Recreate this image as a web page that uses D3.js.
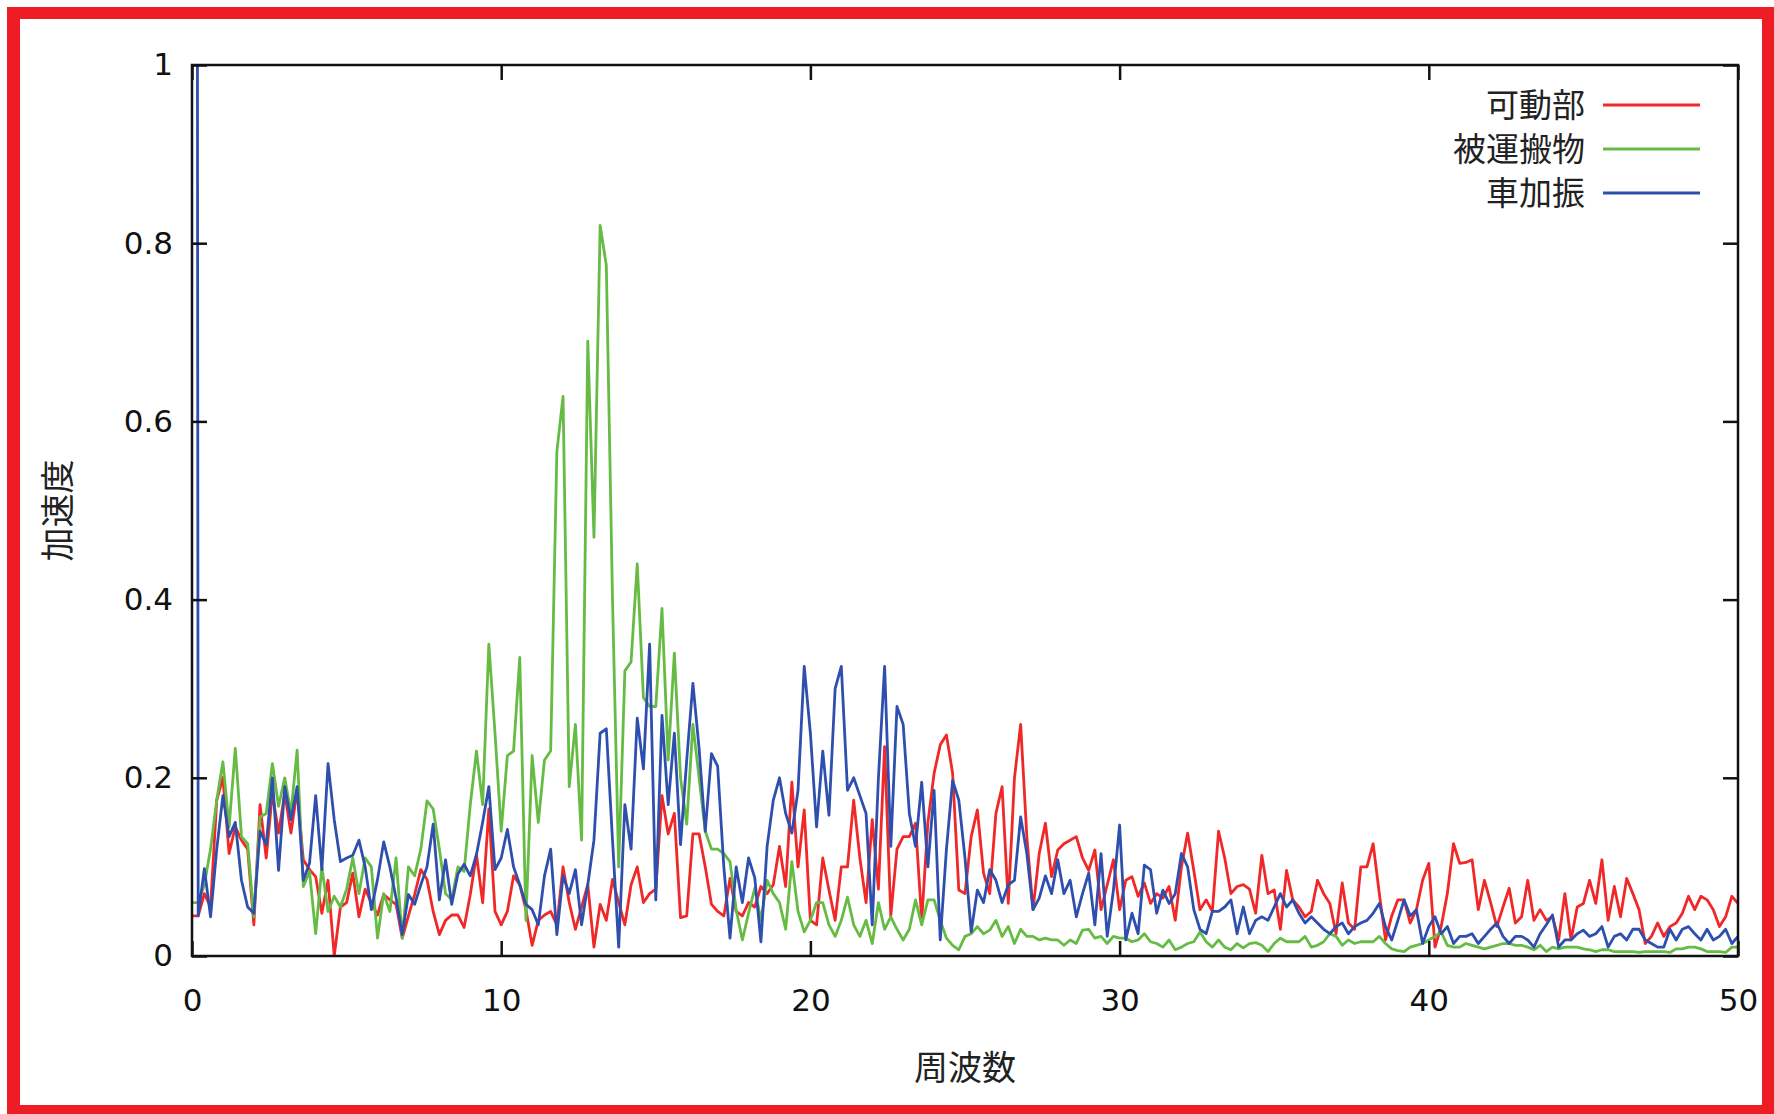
<!DOCTYPE html>
<html>
<head>
<meta charset="utf-8">
<script src="https://cdn.jsdelivr.net/npm/d3@7/dist/d3.min.js"></script>
<style>
  html, body { margin: 0; padding: 0; background: #ffffff; }
  svg { display: block; }
</style>
</head>
<body>
<svg id="chart" width="1774" height="1114"></svg>
<script>
// ---------------- data ----------------
const seriesNames = ["可動部", "被運搬物", "車加振"];
const xLabel = "周波数";
const yLabel = "加速度";
const xTicks = [0, 10, 20, 30, 40, 50];
const yTicks = [0, 0.2, 0.4, 0.6, 0.8, 1];
const freqStep = 0.2; // Hz between spectrum samples, starting at 0

// 可動部 (red)
const movingPart = [
  0.045,0.045,0.07,0.055,0.175,0.2,0.115,0.145,0.13,0.12,
  0.035,0.17,0.11,0.183,0.138,0.183,0.138,0.186,0.108,0.097,
  0.089,0.048,0.085,0.0,0.055,0.06,0.093,0.044,0.075,0.06,
  0.046,0.069,0.063,0.058,0.02,0.045,0.069,0.097,0.086,0.05,
  0.024,0.04,0.046,0.046,0.032,0.069,0.114,0.06,0.165,0.05,
  0.035,0.05,0.09,0.08,0.052,0.012,0.04,0.046,0.05,0.035,
  0.1,0.06,0.03,0.055,0.08,0.01,0.058,0.04,0.086,0.06,
  0.035,0.08,0.1,0.06,0.07,0.075,0.18,0.137,0.16,0.043,
  0.045,0.137,0.137,0.1,0.058,0.05,0.045,0.087,0.05,0.045,
  0.06,0.055,0.078,0.07,0.08,0.123,0.078,0.195,0.1,0.164,
  0.04,0.035,0.11,0.074,0.04,0.1,0.1,0.175,0.11,0.06,
  0.153,0.075,0.235,0.045,0.12,0.134,0.134,0.149,0.04,0.15,
  0.205,0.237,0.248,0.205,0.074,0.07,0.134,0.164,0.093,0.07,
  0.16,0.19,0.059,0.2,0.26,0.134,0.052,0.115,0.149,0.089,
  0.119,0.126,0.13,0.134,0.11,0.096,0.119,0.052,0.08,0.108,
  0.052,0.085,0.089,0.067,0.082,0.059,0.07,0.065,0.078,0.04,
  0.1,0.138,0.096,0.052,0.063,0.05,0.14,0.11,0.07,0.078,
  0.08,0.075,0.048,0.113,0.07,0.074,0.03,0.096,0.063,0.055,
  0.044,0.05,0.085,0.07,0.059,0.025,0.082,0.037,0.03,0.1,
  0.1,0.126,0.07,0.018,0.045,0.063,0.063,0.037,0.052,0.085,
  0.104,0.01,0.033,0.07,0.126,0.104,0.105,0.108,0.052,0.085,
  0.06,0.033,0.055,0.076,0.037,0.044,0.085,0.04,0.052,0.04,
  0.044,0.018,0.07,0.018,0.055,0.059,0.085,0.059,0.108,0.04,
  0.078,0.044,0.087,0.07,0.052,0.014,0.022,0.037,0.022,0.033,
  0.037,0.048,0.067,0.052,0.067,0.063,0.052,0.033,0.044,0.067,
  0.059
];

// 被運搬物 (green)
const cargo = [
  0.06,0.06,0.08,0.12,0.175,0.218,0.145,0.233,0.134,0.126,
  0.044,0.156,0.16,0.216,0.168,0.2,0.16,0.231,0.078,0.095,
  0.025,0.1,0.05,0.067,0.055,0.075,0.11,0.07,0.11,0.1,
  0.02,0.07,0.05,0.11,0.02,0.1,0.09,0.12,0.174,0.165,
  0.12,0.07,0.063,0.1,0.095,0.17,0.23,0.17,0.35,0.25,
  0.14,0.225,0.23,0.335,0.04,0.225,0.15,0.22,0.23,0.566,
  0.628,0.19,0.26,0.13,0.69,0.47,0.82,0.775,0.4,0.1,
  0.32,0.33,0.44,0.29,0.28,0.28,0.39,0.22,0.34,0.2,
  0.148,0.26,0.2,0.14,0.12,0.12,0.115,0.106,0.052,0.018,
  0.048,0.076,0.04,0.085,0.07,0.06,0.03,0.106,0.05,0.027,
  0.04,0.06,0.06,0.035,0.022,0.04,0.066,0.035,0.022,0.04,
  0.014,0.06,0.03,0.044,0.03,0.018,0.03,0.063,0.035,0.063,
  0.063,0.04,0.02,0.012,0.007,0.022,0.025,0.033,0.025,0.029,
  0.04,0.022,0.033,0.014,0.03,0.022,0.022,0.018,0.02,0.018,
  0.018,0.012,0.018,0.014,0.029,0.03,0.02,0.022,0.014,0.022,
  0.02,0.02,0.016,0.018,0.025,0.016,0.014,0.01,0.018,0.007,
  0.01,0.014,0.016,0.027,0.016,0.01,0.018,0.01,0.007,0.014,
  0.009,0.014,0.015,0.012,0.005,0.014,0.02,0.016,0.016,0.016,
  0.022,0.01,0.012,0.016,0.025,0.022,0.012,0.018,0.014,0.016,
  0.016,0.016,0.022,0.014,0.008,0.006,0.005,0.01,0.012,0.014,
  0.018,0.022,0.027,0.012,0.01,0.01,0.014,0.012,0.01,0.008,
  0.01,0.012,0.014,0.014,0.012,0.012,0.01,0.007,0.012,0.005,
  0.01,0.008,0.01,0.01,0.01,0.008,0.007,0.005,0.007,0.007,
  0.005,0.005,0.005,0.005,0.004,0.005,0.005,0.005,0.005,0.004,
  0.008,0.008,0.01,0.01,0.008,0.005,0.005,0.005,0.004,0.01,
  0.01
];

// 車加振 (blue) — first sample is the DC spike, far above the plot top (clipped)
const vehicleExcitation = [
  8,0.045,0.098,0.044,0.12,0.18,0.134,0.15,0.085,0.055,
  0.048,0.14,0.125,0.2,0.096,0.19,0.153,0.19,0.085,0.104,
  0.18,0.097,0.216,0.153,0.106,0.11,0.113,0.13,0.1,0.052,
  0.086,0.128,0.1,0.065,0.024,0.069,0.058,0.08,0.1,0.148,
  0.063,0.108,0.058,0.092,0.103,0.09,0.114,0.15,0.19,0.097,
  0.11,0.142,0.1,0.08,0.058,0.052,0.035,0.09,0.12,0.024,
  0.09,0.07,0.097,0.035,0.08,0.13,0.25,0.255,0.13,0.01,
  0.17,0.12,0.267,0.21,0.35,0.063,0.27,0.17,0.25,0.125,
  0.22,0.306,0.233,0.14,0.227,0.213,0.1,0.02,0.1,0.06,
  0.11,0.088,0.016,0.123,0.175,0.2,0.16,0.138,0.186,0.325,
  0.25,0.145,0.23,0.158,0.3,0.325,0.186,0.2,0.18,0.16,
  0.035,0.2,0.325,0.123,0.28,0.26,0.16,0.123,0.195,0.1,
  0.186,0.018,0.12,0.197,0.175,0.11,0.027,0.074,0.06,0.097,
  0.085,0.06,0.08,0.085,0.156,0.115,0.052,0.065,0.09,0.07,
  0.108,0.07,0.085,0.044,0.07,0.093,0.035,0.115,0.022,0.074,
  0.147,0.018,0.048,0.025,0.102,0.097,0.048,0.074,0.059,0.07,
  0.115,0.1,0.052,0.03,0.025,0.05,0.05,0.055,0.063,0.025,
  0.055,0.025,0.04,0.044,0.04,0.055,0.07,0.055,0.063,0.048,
  0.037,0.044,0.037,0.03,0.025,0.033,0.037,0.025,0.033,0.037,
  0.04,0.048,0.059,0.033,0.018,0.04,0.063,0.045,0.052,0.014,
  0.033,0.044,0.025,0.033,0.014,0.022,0.022,0.025,0.014,0.022,
  0.03,0.037,0.022,0.014,0.022,0.022,0.018,0.01,0.025,0.035,
  0.046,0.01,0.018,0.018,0.025,0.029,0.022,0.025,0.033,0.01,
  0.022,0.025,0.018,0.03,0.03,0.018,0.014,0.01,0.01,0.03,
  0.018,0.03,0.033,0.025,0.018,0.03,0.018,0.022,0.03,0.014,
  0.022
];

const seriesColors = ["#f02828", "#66bb44", "#2f4fae"];

// ---------------- drawing ----------------
const W = 1774, H = 1114;
const plot = { left: 192, right: 1738, top: 65, bottom: 956 };
const svg = d3.select("#chart");

svg.append("rect").attr("x", 0).attr("y", 0).attr("width", W).attr("height", H).attr("fill", "#fff");

// red outer border
const red = "#ee1c25";
svg.append("rect").attr("x", 7).attr("y", 7).attr("width", 1774 - 7).attr("height", 12).attr("fill", red);
svg.append("rect").attr("x", 7).attr("y", 7).attr("width", 13).attr("height", H - 7).attr("fill", red);
svg.append("rect").attr("x", 7).attr("y", 1105).attr("width", 1774 - 7).attr("height", 9).attr("fill", red);
svg.append("rect").attr("x", 1762).attr("y", 7).attr("width", 12).attr("height", H - 7).attr("fill", red);

const x = d3.scaleLinear().domain([0, 50]).range([plot.left, plot.right]);
const y = d3.scaleLinear().domain([0, 1]).range([plot.bottom, plot.top]);

const tickFont = "'DejaVu Sans', Verdana, sans-serif";
const cjkFont = "'Noto Sans CJK JP', 'Noto Sans CJK SC', sans-serif";
const fmt = d => String(+(+d).toFixed(1));
const tickLen = 15;

svg.append("defs").append("clipPath").attr("id", "plotClip")
  .append("rect").attr("x", plot.left).attr("y", plot.top)
  .attr("width", plot.right - plot.left).attr("height", plot.bottom - plot.top);

// series lines
const allSeries = [movingPart, cargo, vehicleExcitation];
const line = d3.line().x((d, i) => x(i * freqStep)).y(d => y(d));
const lineG = svg.append("g").attr("clip-path", "url(#plotClip)");
allSeries.forEach((s, k) => {
  lineG.append("path").datum(s)
    .attr("d", line)
    .attr("fill", "none")
    .attr("stroke", seriesColors[k])
    .attr("stroke-width", 2.8)
    .attr("stroke-linejoin", "round");
});

// axes
const gB = svg.append("g").attr("transform", `translate(0,${plot.bottom})`)
  .call(d3.axisBottom(x).tickValues(xTicks).tickFormat(fmt).tickSizeInner(-tickLen).tickSizeOuter(0).tickPadding(33));
const gT = svg.append("g").attr("transform", `translate(0,${plot.top})`)
  .call(d3.axisTop(x).tickValues(xTicks).tickFormat("").tickSizeInner(-tickLen).tickSizeOuter(0));
const gL = svg.append("g").attr("transform", `translate(${plot.left},0)`)
  .call(d3.axisLeft(y).tickValues(yTicks).tickFormat(fmt).tickSizeInner(-tickLen).tickSizeOuter(0).tickPadding(19));
const gR = svg.append("g").attr("transform", `translate(${plot.right},0)`)
  .call(d3.axisRight(y).tickValues(yTicks).tickFormat("").tickSizeInner(-tickLen).tickSizeOuter(0));

[gB, gT, gL, gR].forEach(g => {
  g.select(".domain").remove();
  g.selectAll(".tick line").attr("stroke", "#111").attr("stroke-width", 2.5);
  g.selectAll(".tick text").attr("fill", "#111").style("font-family", tickFont).style("font-size", "31px");
});

// frame
svg.append("rect")
  .attr("x", plot.left).attr("y", plot.top)
  .attr("width", plot.right - plot.left).attr("height", plot.bottom - plot.top)
  .attr("fill", "none").attr("stroke", "#111").attr("stroke-width", 2.5);

// axis titles
svg.append("text")
  .attr("x", (plot.left + plot.right) / 2).attr("y", 1080)
  .attr("text-anchor", "middle")
  .style("font-family", cjkFont).style("font-size", "34px").attr("fill", "#222")
  .text(xLabel);
svg.append("text")
  .attr("transform", `translate(70,${(plot.top + plot.bottom) / 2}) rotate(-90)`)
  .attr("text-anchor", "middle")
  .style("font-family", cjkFont).style("font-size", "34px").attr("fill", "#222")
  .text(yLabel);

// legend
const legend = svg.append("g");
const legY0 = 105, legDy = 44;
seriesNames.forEach((name, k) => {
  const ly = legY0 + k * legDy;
  legend.append("text")
    .attr("x", 1585).attr("y", ly).attr("dy", "0.36em")
    .attr("text-anchor", "end")
    .style("font-family", cjkFont).style("font-size", "33px").attr("fill", "#222")
    .text(name);
  legend.append("line")
    .attr("x1", 1603).attr("x2", 1700).attr("y1", ly).attr("y2", ly)
    .attr("stroke", seriesColors[k]).attr("stroke-width", 2.8);
});
</script>
</body>
</html>
